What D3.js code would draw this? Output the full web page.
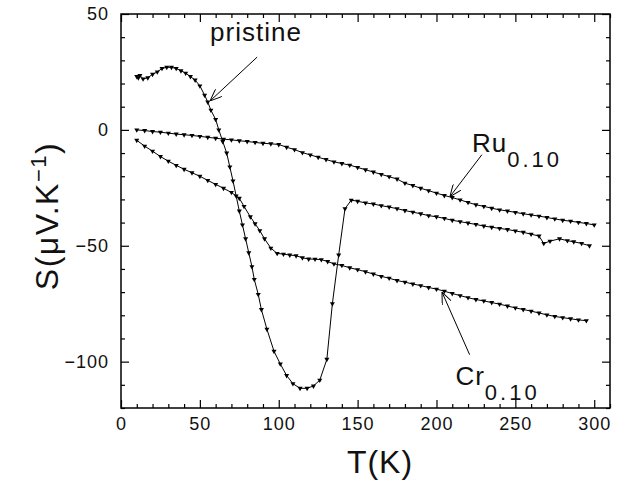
<!DOCTYPE html>
<html>
<head>
<meta charset="utf-8">
<script src="https://cdn.jsdelivr.net/npm/d3@7"></script>
<style>
  body { margin: 0; background: #fff; }
  text { font-family: "Liberation Sans", Arial, sans-serif; fill: #111; }
</style>
</head>
<body>
<svg id="chart" width="627" height="481"></svg>
<script>
// pristine sample
var pristineT = [10, 11, 12, 14, 17, 20, 23, 26, 29, 32, 35, 38, 41, 44, 47, 50, 53, 55, 57, 60, 62, 64.5, 67, 69, 71, 73, 75, 77, 79, 81, 83, 84.5, 87, 89, 92.5, 97, 101, 105, 109, 113.5, 118, 122, 126, 130.5, 134, 138, 142, 146,
  150, 155, 160, 165, 170, 175, 180, 185, 190, 195, 200, 205, 210, 215, 220, 225, 230, 235, 240, 245, 250, 255, 260, 265, 268, 272, 278, 283, 287, 292, 297];
var pristineS = [23, 22.5, 23.5, 22, 22.5, 24, 25, 26.5, 27, 27, 26.5, 25.5, 24.5, 23, 21.5, 19, 15, 12, 8.5, 4.5, 0, -5, -10, -16, -22, -28.5, -35, -41, -47, -53, -59, -64.5, -71, -77.5, -86, -95.5, -101, -106, -109.5, -111.5, -111.5, -110.5, -108, -99, -75, -54, -34, -30.3,
  -30.8, -31.5, -32, -32.7, -33.3, -34, -34.8, -35.5, -36.2, -37, -37.5, -38.2, -39, -39.6, -40.2, -40.8, -41.5, -42, -42.5, -43, -43.6, -44.2, -45, -45.8, -49, -48, -47, -47.8, -48.3, -49, -50];

// Ru 0.10
var ruT = [10, 15, 20, 25, 30, 35, 40, 45, 50, 55, 60, 65, 70, 75, 80, 85, 90, 95, 100, 105, 110, 115, 120, 125, 130, 135, 140, 145, 150, 155, 160, 165, 170, 175, 180, 185, 190, 195, 200, 205, 210, 215, 220, 225, 230, 235, 240, 245, 250, 255, 260, 265, 270, 275, 280, 285, 290, 295, 300];
var ruS = [0, -0.3, -0.7, -1, -1.4, -1.8, -2.1, -2.4, -2.8, -3.2, -3.6, -4, -4.3, -4.7, -5, -5.4, -5.8, -6, -6.3, -7.5, -8.5, -9.8, -10.8, -11.8, -12.8, -13.8, -14.5, -15.2, -16.2, -17.2, -18.2, -19.2, -20.2, -21.2, -23, -24, -25.2, -26.2, -27.3, -28.3, -29.2, -30.2, -31.3, -32.3, -33, -33.8, -34.5, -35, -35.6, -36.2, -36.7, -37.2, -37.8, -38.4, -39, -39.4, -39.9, -40.4, -41];

// Cr 0.10
var crT = [10, 15, 20, 25, 30, 35, 40, 45, 50, 55, 60, 65, 70, 75, 78, 82, 85, 88, 91, 95, 99, 103, 107, 111, 115, 119, 123, 127, 131, 135, 140, 145, 150, 155, 160, 165, 170, 175, 180, 185, 190, 195, 200, 205, 210, 215, 220, 225, 230, 235, 240, 245, 250, 255, 260, 265, 270, 275, 280, 285, 290, 295];
var crS = [-4.5, -7, -9.2, -11.5, -13.5, -15.3, -17, -18.5, -20, -21.8, -23.5, -25.2, -27, -29.5, -33, -37.5, -40.5, -43.5, -47, -51, -53.3, -53.6, -54, -54.3, -55.2, -55.7, -55.8, -56, -56.8, -57.8, -58.5, -59.5, -60.3, -61.2, -62.2, -63.2, -64, -65, -65.7, -66.5, -67.2, -68, -68.7, -69.6, -70.6, -71.5, -72.4, -73.2, -73.8, -74.5, -75.2, -76, -76.8, -77.5, -78.2, -79, -79.8, -80.5, -81, -81.5, -82, -82.3];

var xMajor = [0, 50, 100, 150, 200, 250, 300];
var yMajor = [-100, -50, 0, 50];

var svg = d3.select('#chart');
var pL = 121, pR = 610, pT = 14, pB = 408;

var x = d3.scaleLinear().domain([0, 310]).range([pL, pR]);
var y = d3.scaleLinear().domain([-120, 50]).range([pB, pT]);

var xMinor = d3.range(0, 311, 10).filter(v => xMajor.indexOf(v) < 0);
var yMinor = d3.range(-120, 51, 10).filter(v => yMajor.indexOf(v) < 0);

// frame
svg.append('rect').attr('x', pL).attr('y', pT)
  .attr('width', pR - pL).attr('height', pB - pT)
  .attr('fill', 'none').attr('stroke', '#000').attr('stroke-width', 1.5);

function ticks(axis, vals, size, tr, labels) {
  var g = svg.append('g').attr('transform', tr)
    .call(axis.tickValues(vals).tickSizeInner(size).tickSizeOuter(0).tickPadding(labels ? 10 : 0)
      .tickFormat(labels ? d3.format('d') : ''));
  g.select('.domain').remove();
  g.selectAll('line').attr('stroke', '#000').attr('stroke-width', 1.2);
  g.selectAll('text').style('font-size', '18px').style('letter-spacing', '1px')
    .attr('fill', '#111').style('font-family', '"Liberation Sans", Arial, sans-serif');
  return g;
}

// bottom / top
ticks(d3.axisBottom(x), xMajor, -8, 'translate(0,' + pB + ')', true)
  .selectAll('text').attr('y', 9);
ticks(d3.axisBottom(x), xMinor, -4, 'translate(0,' + pB + ')', false);
ticks(d3.axisTop(x), xMajor, -8, 'translate(0,' + pT + ')', false);
ticks(d3.axisTop(x), xMinor, -4, 'translate(0,' + pT + ')', false);
// left / right
ticks(d3.axisLeft(y), yMajor, -8, 'translate(' + pL + ',0)', true)
  .selectAll('text').attr('x', -12);
ticks(d3.axisLeft(y), yMinor, -4, 'translate(' + pL + ',0)', false);
ticks(d3.axisRight(y), yMajor, -8, 'translate(' + pR + ',0)', false);
ticks(d3.axisRight(y), yMinor, -4, 'translate(' + pR + ',0)', false);

// series
var series = [
  { name: 'pristine', T: pristineT, S: pristineS },
  { name: 'Ru', T: ruT, S: ruS },
  { name: 'Cr', T: crT, S: crS }
];

var line = d3.line().x(d => x(d[0])).y(d => y(d[1]));
var tri = d3.symbol().type(d3.symbolTriangle).size(11);

series.forEach(function (s) {
  var pts = s.T.map((t, i) => [t, s.S[i]]);
  svg.append('path').datum(pts).attr('d', line)
    .attr('fill', 'none').attr('stroke', '#000').attr('stroke-width', 1);
  svg.append('g').selectAll('path').data(pts).enter().append('path')
    .attr('d', tri)
    .attr('transform', d => 'translate(' + x(d[0]) + ',' + y(d[1]) + ') rotate(180)')
    .attr('fill', '#000');
});

// arrows
svg.append('defs').append('marker').attr('id', 'ah')
  .attr('viewBox', '0 0 12 10').attr('refX', 12).attr('refY', 5)
  .attr('markerWidth', 12).attr('markerHeight', 10).attr('markerUnits', 'userSpaceOnUse')
  .attr('orient', 'auto')
  .append('path').attr('d', 'M0,0 L12,5 L0,10').attr('fill', 'none')
  .attr('stroke', '#000').attr('stroke-width', 1);

var notes = [
  { label: 'pristine', sub: '', tx: 56.5, ty: 38.5, from: [86.3, 31.4], to: [56.5, 12.5] },
  { label: 'Ru', sub: '0.10', tx: 222.5, ty: -9.5, from: [228.8, -10.7], to: [208.5, -28.8] },
  { label: 'Cr', sub: '0.10', tx: 212, ty: -110, from: [221, -97], to: [203.5, -70] }
];

notes.forEach(function (n) {
  svg.append('line')
    .attr('x1', x(n.from[0])).attr('y1', y(n.from[1]))
    .attr('x2', x(n.to[0])).attr('y2', y(n.to[1]))
    .attr('stroke', '#000').attr('stroke-width', 1).attr('marker-end', 'url(#ah)');
  var t = svg.append('text').attr('x', x(n.tx)).attr('y', y(n.ty))
    .style('font-size', '26px').style('letter-spacing', '1px').text(n.label);
  if (n.sub) {
    t.append('tspan').attr('dy', 15).style('font-size', '22px').style('letter-spacing', '3px').text(n.sub);
  }
});

// axis titles
svg.append('text').attr('x', 380).attr('y', 473).attr('text-anchor', 'middle')
  .style('font-size', '32px').style('letter-spacing', '1px').text('T(K)');

var yl = svg.append('text').attr('transform', 'translate(58,216) rotate(-90)')
  .attr('text-anchor', 'middle').style('font-size', '32px').style('letter-spacing', '1.5px');
yl.append('tspan').text('S(μV.K');
yl.append('tspan').attr('dy', -12).style('font-size', '22px').text('−1');
yl.append('tspan').attr('dy', 12).text(')');
</script>
</body>
</html>
